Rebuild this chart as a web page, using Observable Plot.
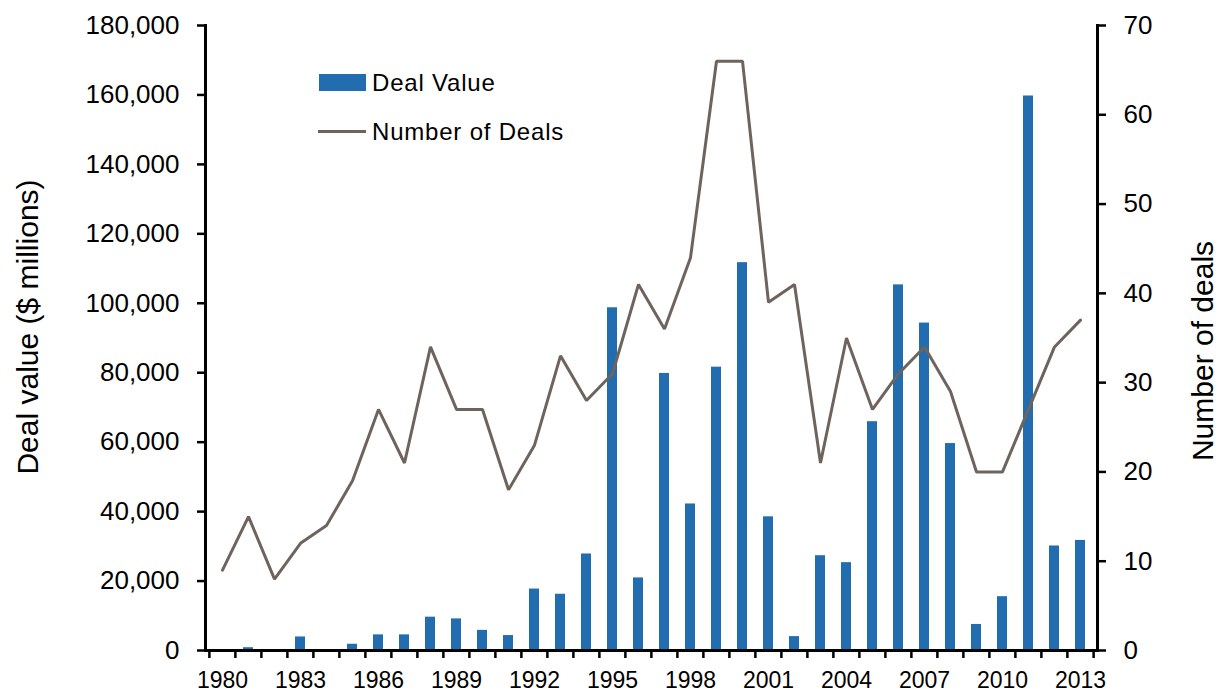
<!DOCTYPE html>
<html>
<head>
<meta charset="utf-8">
<script src="https://cdn.jsdelivr.net/npm/d3@7"></script>
<script src="https://cdn.jsdelivr.net/npm/@observablehq/plot@0.6"></script>
<style>
  html, body { margin: 0; padding: 0; background: #fff; }
  #wrap { position: relative; width: 1219px; height: 692px; font-family: "Liberation Sans", Arial, sans-serif; }
  .leg { position: absolute; font-size: 24px; line-height: 24px; letter-spacing: 0.8px; color: #000; white-space: nowrap; }
  .sw { position: absolute; }
  svg text { letter-spacing: inherit; }
</style>
</head>
<body>
<div id="wrap"></div>
<script>
const years = [1980,1981,1982,1983,1984,1985,1986,1987,1988,1989,1990,1991,1992,1993,1994,1995,1996,1997,1998,1999,2000,2001,2002,2003,2004,2005,2006,2007,2008,2009,2010,2011,2012,2013];
const dealValue = [0,800,0,3900,0,1800,4500,4500,9600,9100,5800,4300,17700,16200,27800,98700,20900,79800,42200,81600,111700,38500,4000,27300,25300,65900,105300,94300,59600,7500,15500,159700,30100,31700];
const numDeals = [9,15,8,12,14,19,27,21,34,27,27,18,23,33,28,31,41,36,44,66,66,39,41,21,35,27,31,34,29,20,20,27,34,37];
const labelYears = [1980,1983,1986,1989,1992,1995,1998,2001,2004,2007,2010,2013];
const leftTicks = [0,20000,40000,60000,80000,100000,120000,140000,160000,180000];
const rightTicks = [0,10,20,30,40,50,60,70];
const leftMax = 180000, rightMax = 70;
const seriesNames = ["Deal Value", "Number of Deals"];
const titleLeft = "Deal value ($ millions)";
const titleRight = "Number of deals";

const blue = "#216db0", brown = "#6e645d";
const W = 1219, H = 692, mL = 205, mR = 122, mT = 25, mB = 42;
const step = (W - mL - mR) / years.length;
const k = leftMax / rightMax;
const rows = years.map((y, i) => ({year: y, value: dealValue[i], deals: numDeals[i]}));
const pad = 0.61;

const chart = Plot.plot({
  width: W, height: H,
  marginLeft: mL, marginRight: mR, marginTop: mT, marginBottom: mB,
  style: {fontFamily: "Liberation Sans, Arial, sans-serif", fontSize: "24px", color: "#000", background: "#fff"},
  x: {type: "band", domain: years, paddingInner: pad, paddingOuter: pad / 2},
  y: {domain: [0, leftMax]},
  marks: [
    Plot.barY(rows, {x: "year", y: "value", fill: blue}),
    Plot.line(rows, {x: "year", y: d => d.deals * k, stroke: brown, strokeWidth: 3, strokeLinejoin: "miter"}),
    Plot.frame({anchor: "left", stroke: "#000", strokeWidth: 3}),
    Plot.frame({anchor: "right", stroke: "#000", strokeWidth: 3}),
    Plot.frame({anchor: "bottom", stroke: "#000", strokeWidth: 3}),
    Plot.axisY({anchor: "left", ticks: leftTicks, tickFormat: d3.format(","), tickSize: 8, tickPadding: 18, strokeWidth: 2.5, fontSize: 26, label: null, style: "letter-spacing:1px"}),
    Plot.axisY({anchor: "right", ticks: rightTicks.map(v => v * k), tickFormat: d => String(Math.round(d / k)), tickSize: 8, tickPadding: 18, strokeWidth: 2.5, fontSize: 26, label: null}),
    Plot.axisX({ticks: years, tickFormat: () => "", dx: -step / 2, tickSize: 8, strokeWidth: 2.5, label: null}),
    Plot.axisX({ticks: [years[years.length - 1]], tickFormat: () => "", dx: step / 2, tickSize: 8, strokeWidth: 2.5, label: null}),
    Plot.axisX({ticks: labelYears, tickFormat: d => String(d), tickSize: 0, tickPadding: 21, fontSize: 23, label: null}),
    Plot.text([titleLeft], {frameAnchor: "left", textAnchor: "middle", rotate: -90, dx: -177, dy: -11, fontSize: 30, fill: "#000"}),
    Plot.text([titleRight], {frameAnchor: "right", textAnchor: "middle", rotate: -90, dx: 106, dy: 13, fontSize: 30, fill: "#000"})
  ]
});
const wrap = document.getElementById("wrap");
wrap.appendChild(chart);

function addDiv(cls, css, html) {
  const d = document.createElement("div");
  d.className = cls;
  d.style.cssText = css;
  if (html) d.textContent = html;
  wrap.appendChild(d);
}
addDiv("sw", `left:319px;top:74px;width:47px;height:17px;background:${blue}`);
addDiv("leg", "left:372px;top:71px", seriesNames[0]);
addDiv("sw", `left:318px;top:130px;width:48px;height:3px;background:${brown}`);
addDiv("leg", "left:372px;top:120px", seriesNames[1]);
</script>
</body>
</html>
